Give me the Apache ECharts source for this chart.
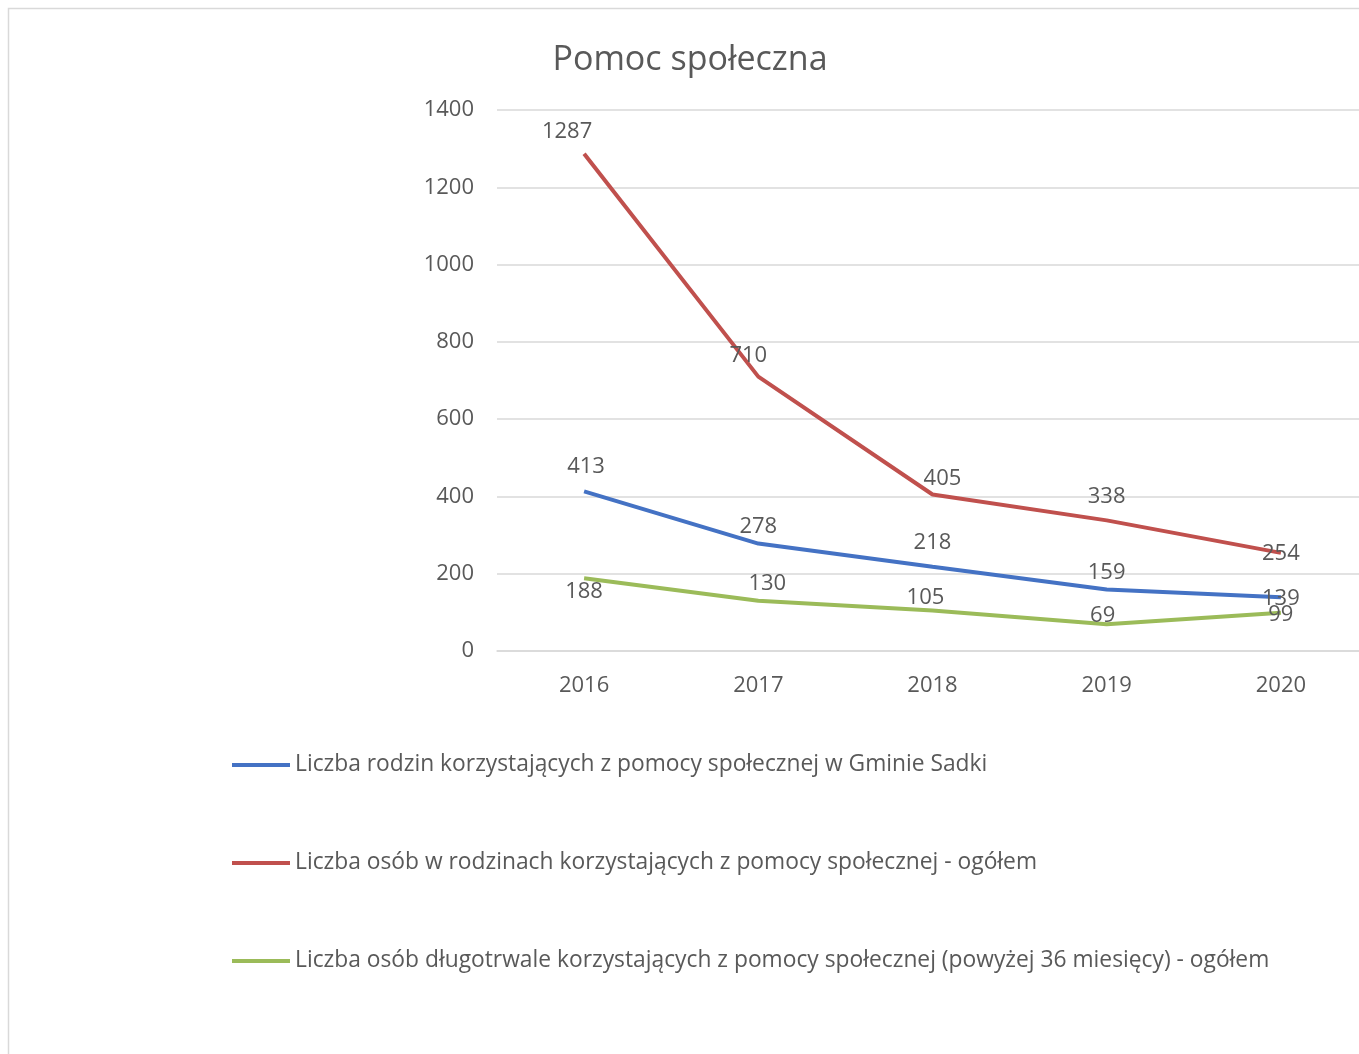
<!DOCTYPE html>
<html>
<head>
<meta charset="utf-8">
<title>Pomoc społeczna</title>
<script src="https://cdn.jsdelivr.net/npm/echarts@6/dist/echarts.min.js"></script>
<style>
  html, body { margin: 0; padding: 0; background: #fff; }
  #chart { width: 1359px; height: 1054px; }
</style>
</head>
<body>
<div id="chart"></div>
<script>
const years = ['2016', '2017', '2018', '2019', '2020'];

const rodziny = [413, 278, 218, 159, 139];
const osoby = [1287, 710, 405, 338, 254];
const dlugotrwale = [188, 130, 105, 69, 99];

const seriesNames = [
  'Liczba rodzin korzystających z pomocy społecznej w Gminie Sadki',
  'Liczba osób w rodzinach korzystających z pomocy społecznej - ogółem',
  'Liczba osób długotrwale korzystających z pomocy społecznej (powyżej 36 miesięcy) - ogółem'
];
const colors = ['#4472C4', '#C0504D', '#9BBB59'];

// label offsets from each point (Excel put them by hand)
const labelOffsets = [
  [[2, -25], [0, -17], [0, -24], [0, -17], [0, 1]],
  [[-17, -22], [-10, -21], [10, -16], [0, -24], [0, 1]],
  [[0, 13], [9, -17], [-7, -13], [-4, -9], [0, 2]]
];

const FONT = 'Open Sans';
const TEXT = '#595959';

const chart = echarts.init(document.getElementById('chart'));

function makeSeries(idx, values) {
  return {
    name: seriesNames[idx],
    type: 'line',
    data: values.map((v, i) => ({
      value: v,
      label: { position: labelOffsets[idx][i] }
    })),
    symbol: 'circle',
    symbolSize: 0.1,
    showSymbol: true,
    lineStyle: { width: 4, color: colors[idx] },
    itemStyle: { color: colors[idx] },
    label: {
      show: true,
      align: 'center',
      verticalAlign: 'middle',
      color: TEXT,
      fontFamily: FONT,
      fontSize: 22
    },
    labelLayout: { hideOverlap: false },
    emphasis: { disabled: true },
    z: idx === 1 ? 3 : 2
  };
}

const option = {
  backgroundColor: '#fff',
  animation: false,
  title: {
    text: 'Pomoc społeczna',
    left: 685,
    top: 38,
    textAlign: 'center',
    textStyle: { fontFamily: FONT, fontSize: 34, fontWeight: 'normal', color: TEXT }
  },
  graphic: [{
    type: 'rect',
    shape: { x: 8.5, y: 8.5, width: 1400, height: 1100 },
    style: { fill: 'none', stroke: '#d9d9d9', lineWidth: 1.5 },
    silent: true
  }],
  grid: { left: 497, width: 871, top: 110, bottom: 403, outerBoundsMode: 'none' },
  xAxis: {
    type: 'category',
    data: years,
    boundaryGap: true,
    axisLine: { lineStyle: { color: '#d9d9d9', width: 1.5 } },
    axisTick: { show: false },
    axisLabel: { color: TEXT, fontFamily: FONT, fontSize: 22, margin: 24 }
  },
  yAxis: {
    type: 'value',
    min: 0,
    max: 1400,
    interval: 200,
    axisLine: { show: false },
    axisTick: { show: false },
    axisLabel: { color: TEXT, fontFamily: FONT, fontSize: 22, margin: 23, formatter: v => String(v) },
    splitLine: { lineStyle: { color: '#d9d9d9', width: 1.5 } }
  },
  legend: {
    orient: 'vertical',
    left: 227,
    top: 745,
    icon: 'rect',
    itemWidth: 58,
    itemHeight: 4,
    itemGap: 68,
    textStyle: { color: TEXT, fontFamily: FONT, fontSize: 22.8, lineHeight: 30 },
    data: seriesNames
  },
  series: [
    makeSeries(0, rodziny),
    makeSeries(1, osoby),
    makeSeries(2, dlugotrwale)
  ]
};

chart.setOption(option);
</script>
</body>
</html>
